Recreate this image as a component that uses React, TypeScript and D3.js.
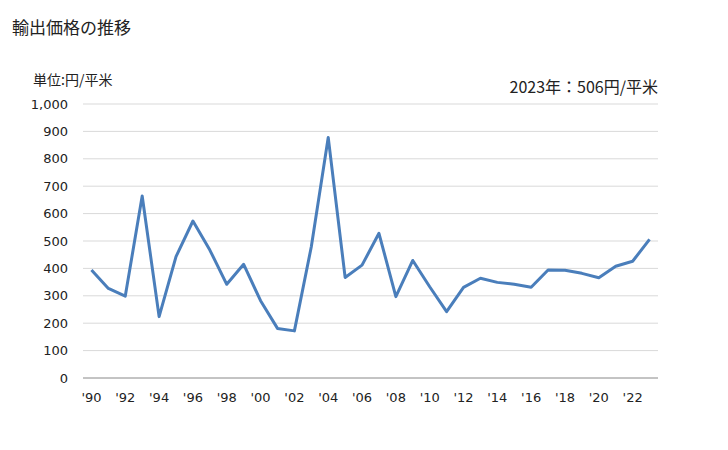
import * as d3 from "d3";

const years = d3.range(1990, 2024);
const prices = [
  394, 327, 299, 664, 224, 443, 573, 467, 342, 415, 282, 181, 172, 479, 878, 367,
  412, 528, 297, 429, 333, 242, 331, 364, 349, 342, 331, 394, 393, 382, 366, 408,
  426, 506,
];
const yTicks = [0, 100, 200, 300, 400, 500, 600, 700, 800, 900, 1000];
const xTickYears = years.filter((y) => y % 2 === 0);

const FONT = "'DejaVu Sans', 'Noto Sans CJK JP', sans-serif";
const JP_FONT = "'Noto Sans CJK JP', sans-serif";

export default function App() {
  const width = 728;
  const height = 450;
  const MARGIN = { top: 104, right: 70, bottom: 72, left: 83 };
  const boundsWidth = width - MARGIN.left - MARGIN.right;
  const boundsHeight = height - MARGIN.top - MARGIN.bottom;

  const xScale = d3
    .scaleBand<number>()
    .domain(years)
    .range([0, boundsWidth]);
  const yScale = d3.scaleLinear().domain([0, 1000]).range([boundsHeight, 0]);

  const xPos = (y: number) => xScale(y)! + xScale.bandwidth() / 2;

  const line = d3
    .line<number>()
    .x((_, i) => xPos(years[i]))
    .y((d) => yScale(d));

  const fmt = d3.format(",");

  return (
    <svg
      width={width}
      height={height}
      style={{ position: "absolute", left: 0, top: 0, background: "#fff" }}
    >
      <text x={12} y={34} fontSize={17} fontFamily={JP_FONT} fill="#222">
        輸出価格の推移
      </text>
      <text x={33} y={85} fontSize={14} fontFamily={JP_FONT} fill="#222">
        単位:円/平米
      </text>
      <text
        x={658}
        y={93}
        fontSize={16}
        textAnchor="end"
        fontFamily={JP_FONT}
        fill="#222"
      >
        2023年：506円/平米
      </text>
      <g transform={`translate(${MARGIN.left},${MARGIN.top})`}>
        {yTicks.map((t) => (
          <g key={t}>
            {t > 0 && (
              <line
                x1={0}
                x2={boundsWidth}
                y1={yScale(t)}
                y2={yScale(t)}
                stroke="#d9d9d9"
                strokeWidth={1}
              />
            )}
            <text
              x={-15}
              y={yScale(t)}
              dy="0.35em"
              textAnchor="end"
              fontSize={13}
              fontFamily={FONT}
              fill="#222"
            >
              {fmt(t)}
            </text>
          </g>
        ))}
        <line
          x1={0}
          x2={boundsWidth}
          y1={boundsHeight}
          y2={boundsHeight}
          stroke="#888"
          strokeWidth={1}
        />
        {xTickYears.map((y) => (
          <text
            key={y}
            x={xPos(y)}
            y={boundsHeight + 24}
            textAnchor="middle"
            fontSize={13}
            fontFamily={FONT}
            fill="#222"
          >
            {"'" + String(y).slice(2)}
          </text>
        ))}
        <path
          d={line(prices) || ""}
          fill="none"
          stroke="#4a7ebb"
          strokeWidth={3}
          strokeLinejoin="round"
        />
      </g>
    </svg>
  );
}
